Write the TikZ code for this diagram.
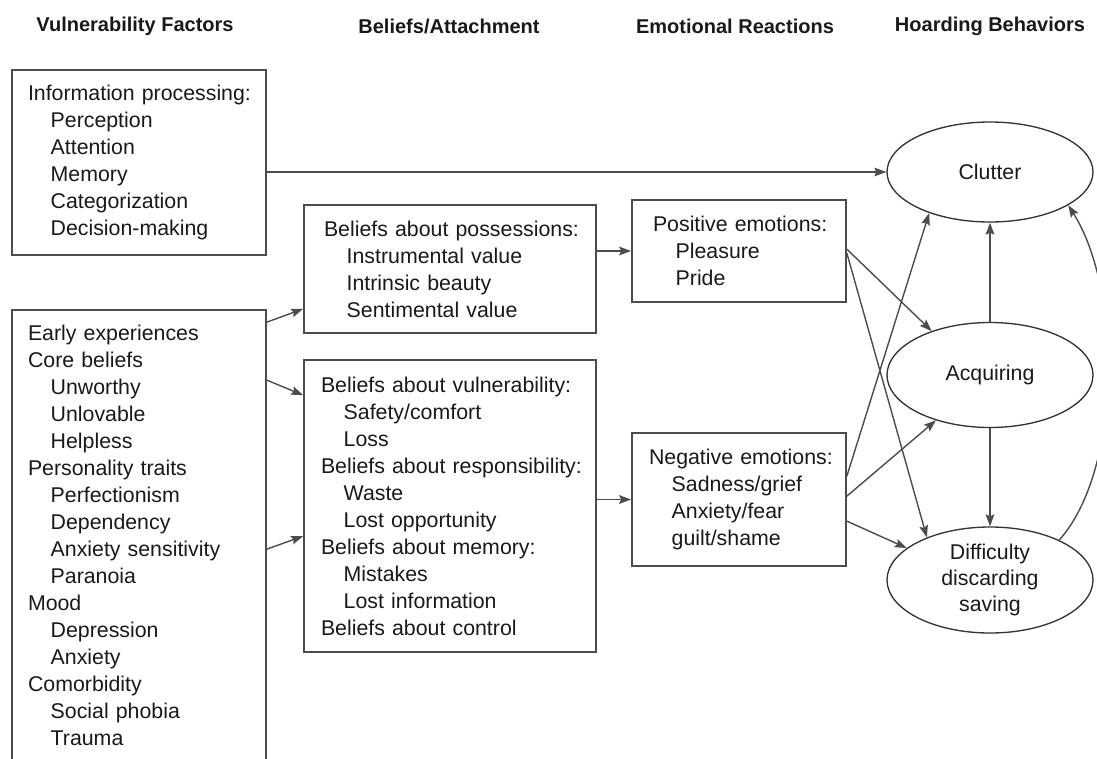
\documentclass[tikz,border=0pt]{standalone}
\usepackage{fontspec}
\setmainfont{Liberation Sans}
\usetikzlibrary{arrows.meta,shapes.geometric,calc}
\newcommand\subi{\hspace*{17pt}}
\newcommand\Ln[1]{\mbox{#1}}
\begin{document}
\begin{tikzpicture}[x=0.75pt,y=-0.75pt,
  every node/.style={text=black!90},
  hdr/.style={font=\fontsize{15}{18}\selectfont\bfseries, inner sep=0pt},
  box/.style={draw=black!70, line width=1.3pt, align=left, inner ysep=0pt, font=\fontsize{16}{20.25}\selectfont},
  oval/.style={draw=black!80, line width=1pt, ellipse, inner sep=0pt, align=center, font=\fontsize{16}{19.5}\selectfont, minimum width=154.5pt},
  arr/.style={draw=black!70, line width=1.05pt, -{Stealth[length=9pt,width=6.5pt,inset=1.5pt]}},
]
\useasboundingbox (0,0) rectangle (1097,758);

% headers
\node[hdr] (h1) at (135,26) {Vulnerability Factors};
\node[hdr] (h2) at (449,26) {Beliefs/Attachment};
\node[hdr] (h3) at (735,26) {Emotional Reactions};
\node[hdr] (h4) at (990,26) {Hoarding Behaviors};

% left boxes
\node[box, minimum width=190.5pt, minimum height=138.75pt, text width=166.5pt, inner xsep=12pt] (b1) at (139,162.5)
 {\Ln{Information processing:}\\\Ln{\subi Perception}\\\Ln{\subi Attention}\\\Ln{\subi Memory}\\\Ln{\subi Categorization}\\\Ln{\subi Decision-making}};
\node[box, minimum width=190.5pt, minimum height=338.25pt, text width=166.5pt, inner xsep=12pt] (b2) at (139,535.5)
 {\Ln{Early experiences}\\\Ln{Core beliefs}\\\Ln{\subi Unworthy}\\\Ln{\subi Unlovable}\\\Ln{\subi Helpless}\\\Ln{Personality traits}\\\Ln{\subi Perfectionism}\\\Ln{\subi Dependency}\\\Ln{\subi Anxiety sensitivity}\\\Ln{\subi Paranoia}\\\Ln{Mood}\\\Ln{\subi Depression}\\\Ln{\subi Anxiety}\\\Ln{Comorbidity}\\\Ln{\subi Social phobia}\\\Ln{\subi Trauma}};

% beliefs boxes
\node[box, minimum width=219pt, minimum height=96pt, text width=189pt, inner xsep=15pt] (poss) at (450,269)
 {\Ln{Beliefs about possessions:}\\\Ln{\subi Instrumental value}\\\Ln{\subi Intrinsic beauty}\\\Ln{\subi Sentimental value}};
\node[box, minimum width=219pt, minimum height=219pt, text width=193.5pt, inner xsep=12.75pt] (vul) at (450,506)
 {\Ln{Beliefs about vulnerability:}\\\Ln{\subi Safety/comfort}\\\Ln{\subi Loss}\\\Ln{Beliefs about responsibility:}\\\Ln{\subi Waste}\\\Ln{\subi Lost opportunity}\\\Ln{Beliefs about memory:}\\\Ln{\subi Mistakes}\\\Ln{\subi Lost information}\\\Ln{Beliefs about control}};

% emotion boxes
\node[box, minimum width=160.5pt, minimum height=76.5pt, text width=129pt, inner xsep=15.75pt] (pos) at (739,251)
 {\Ln{Positive emotions:}\\\Ln{\subi Pleasure}\\\Ln{\subi Pride}};
\node[box, minimum width=160.5pt, minimum height=99.75pt, text width=135pt, inner xsep=12.75pt] (neg) at (739,499.5)
 {\Ln{Negative emotions:}\\\Ln{\subi Sadness/grief}\\\Ln{\subi Anxiety/fear}\\\Ln{\subi guilt/shame}};

% behaviours
\node[oval, minimum height=75pt] (clutter) at (990,172) {Clutter};
\node[oval, minimum height=78.75pt] (acq) at (990,375) {Acquiring};
\node[oval, minimum height=79.5pt] (dif) at (990,580) {Difficulty\\discarding\\saving};

% connectors
\draw[arr] (clutter.west -| b1.east) -- (clutter.west);
\draw[arr] ($(b2.north east)+(0,13)$) -- ($(poss.south west)+(0,-25)$);
\draw[arr] ($(b2.north east)+(0,71)$) -- ($(vul.north west)+(0,36)$);
\draw[arr] ($(b2.north east)+(0,240)$) -- ($(vul.north west)+(0,177)$);
\draw[arr] (pos.west -| poss.east) -- (pos.west);
\draw[arr] (neg.west -| vul.east) -- (neg.west);

\draw[arr] ($(pos.north east)+(0,50)$) -- (acq.143);
\draw[arr] ($(pos.north east)+(0,54)$) -- (dif.146);
\draw[arr] ($(neg.north east)+(0,44)$) -- (clutter.214);
\draw[arr] ($(neg.north east)+(0,64)$) -- (acq.220);
\draw[arr] ($(neg.north east)+(0,89)$) -- (dif.159);

\draw[arr] (acq.north) -- (clutter.south);
\draw[arr] (acq.south) -- (dif.north);
\draw[arr] (dif.30) .. controls (1122,470) and (1122,290) .. (clutter.337);
\end{tikzpicture}
\end{document}
